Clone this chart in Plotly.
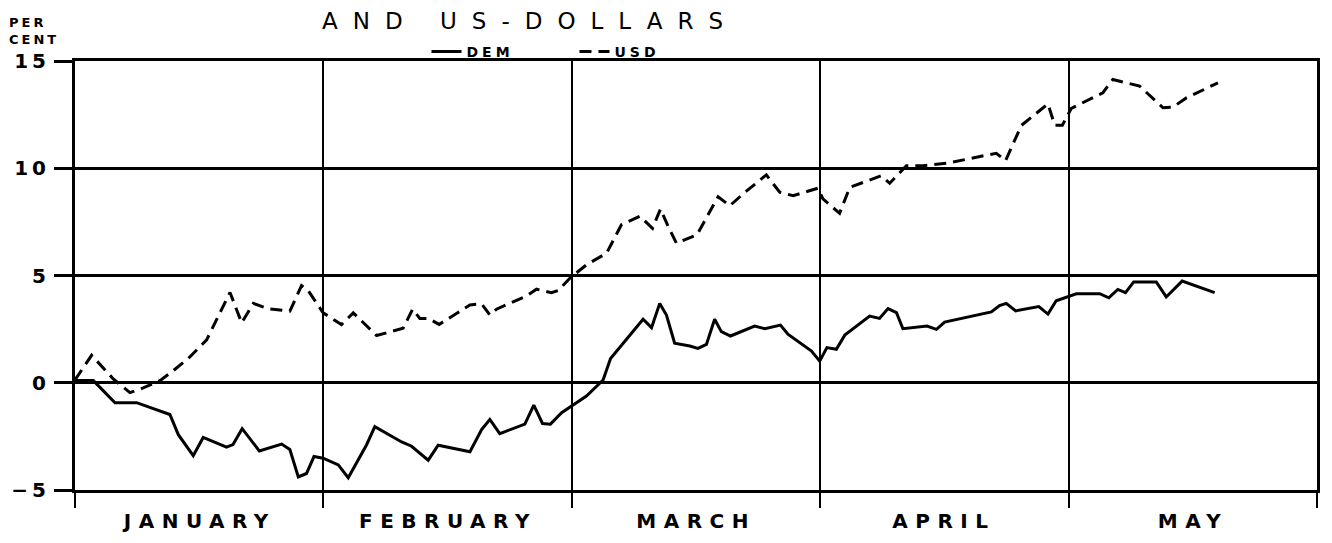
import plotly.graph_objects as go

# ---- data (x positions in month units: 0 = start of January, 5 = end of May) ----
months = ["JANUARY", "FEBRUARY", "MARCH", "APRIL", "MAY"]
month_bounds = [0, 1, 2, 3, 4, 5]
y_ticks = [-5, 0, 5, 10, 15]

dem_pos = [0.000, 0.074, 0.161, 0.248, 0.382, 0.416, 0.476, 0.516, 0.610, 0.636,
           0.673, 0.742, 0.832, 0.865, 0.899, 0.932, 0.962, 0.999, 1.060, 1.100,
           1.174, 1.207, 1.315, 1.355, 1.422, 1.462, 1.590, 1.637, 1.670, 1.710,
           1.811, 1.847, 1.882, 1.914, 1.959, 2.059, 2.126, 2.156, 2.287, 2.321,
           2.354, 2.381, 2.414, 2.475, 2.508, 2.542, 2.575, 2.602, 2.639, 2.736,
           2.777, 2.840, 2.870, 2.965, 2.998, 3.027, 3.065, 3.099, 3.199, 3.239,
           3.273, 3.307, 3.333, 3.430, 3.468, 3.501, 3.689, 3.722, 3.749, 3.787,
           3.880, 3.917, 3.950, 3.984, 4.031, 4.125, 4.162, 4.198, 4.229, 4.262,
           4.353, 4.393, 4.457, 4.588]
dem_values = [0.1, 0.1, -0.93, -0.93, -1.48, -2.42, -3.4, -2.55, -3.0, -2.88,
              -2.14, -3.18, -2.86, -3.11, -4.39, -4.23, -3.44, -3.52, -3.83, -4.43,
              -2.89, -2.05, -2.76, -2.96, -3.61, -2.91, -3.22, -2.18, -1.71, -2.37,
              -1.93, -1.04, -1.9, -1.93, -1.4, -0.62, 0.13, 1.13, 2.96, 2.57,
              3.7, 3.16, 1.84, 1.71, 1.6, 1.79, 2.96, 2.38, 2.18, 2.64,
              2.52, 2.69, 2.26, 1.48, 1.01, 1.64, 1.56, 2.22, 3.11, 3.0,
              3.46, 3.27, 2.52, 2.64, 2.49, 2.83, 3.3, 3.6, 3.7, 3.35,
              3.55, 3.2, 3.82, 3.97, 4.15, 4.15, 3.96, 4.35, 4.2, 4.7,
              4.7, 4.0, 4.74, 4.2]

usd_pos = [0.000, 0.067, 0.154, 0.221, 0.262, 0.342, 0.396, 0.456, 0.530, 0.624,
           0.671, 0.718, 0.778, 0.865, 0.912, 0.939, 0.999, 1.073, 1.120, 1.214,
           1.321, 1.359, 1.388, 1.422, 1.466, 1.590, 1.637, 1.670, 1.697, 1.818,
           1.858, 1.918, 1.945, 1.992, 2.059, 2.140, 2.200, 2.274, 2.325, 2.357,
           2.388, 2.421, 2.504, 2.535, 2.589, 2.636, 2.689, 2.783, 2.837, 2.891,
           2.991, 3.011, 3.078, 3.119, 3.246, 3.280, 3.347, 3.414, 3.508, 3.709,
           3.746, 3.810, 3.917, 3.944, 3.975, 4.011, 4.138, 4.178, 4.252, 4.286,
           4.380, 4.420, 4.474, 4.601]
usd_values = [0.13, 1.28, 0.18, -0.46, -0.3, 0.1, 0.57, 1.13, 2.0, 4.21,
              2.79, 3.7, 3.45, 3.34, 4.53, 4.29, 3.26, 2.71, 3.26, 2.2,
              2.54, 3.43, 3.0, 3.0, 2.72, 3.63, 3.68, 3.16, 3.43, 4.05,
              4.36, 4.2, 4.3, 4.87, 5.5, 6.04, 7.37, 7.76, 7.2, 8.1,
              7.29, 6.51, 6.9, 7.55, 8.67, 8.25, 8.8, 9.69, 8.88, 8.72,
              9.07, 8.57, 7.9, 9.11, 9.65, 9.3, 10.12, 10.12, 10.23, 10.7,
              10.35, 12.0, 13.0, 12.01, 12.01, 12.79, 13.52, 14.14, 13.91, 13.83,
              12.82, 12.85, 13.28, 13.98]

FONT = "DejaVu Sans"

fig = go.Figure()
fig.add_trace(go.Scatter(x=dem_pos, y=dem_values, mode="lines", name="DEM",
                         line=dict(color="black", width=3)))
fig.add_trace(go.Scatter(x=usd_pos, y=usd_values, mode="lines", name="USD",
                         line=dict(color="black", width=3, dash="12px,7px")))

# month labels below the axis
for i, m in enumerate(months):
    fig.add_annotation(x=i + 0.5, y=0, xref="x", yref="paper",
                       text=m, showarrow=False, yanchor="middle", yshift=-31,
                       font=dict(family=FONT, size=20, color="black", weight="bold"))

fig.add_annotation(x=0, y=1, xref="paper", yref="paper", xshift=-68, yshift=48,
                   xanchor="left", yanchor="top", align="left", showarrow=False,
                   text="PER<br>CENT",
                   font=dict(family=FONT, size=13, color="black", weight="bold"))

fig.add_annotation(x=0.366, y=1, xref="paper", yref="paper", yshift=40,
                   xanchor="center", yanchor="middle", showarrow=False,
                   text="AND US-DOLLARS",
                   font=dict(family=FONT, size=23, color="black"))

fig.update_layout(
    width=1332, height=543,
    margin=dict(l=75, r=15, t=61, b=53, autoexpand=False),
    paper_bgcolor="white", plot_bgcolor="white",
    showlegend=True,
    legend=dict(orientation="h", x=0.283, xanchor="left", y=1.021, yanchor="middle",
                font=dict(family=FONT, size=14, color="black", weight="bold"),
                bgcolor="rgba(0,0,0,0)", entrywidth=103, entrywidthmode="pixels",
                tracegroupgap=0),
    xaxis=dict(range=[0, 5], tickvals=month_bounds, showticklabels=False,
               ticks="outside", ticklen=15, tickwidth=2, tickcolor="black",
               showgrid=True, gridcolor="black", gridwidth=2,
               showline=True, linecolor="black", linewidth=3, mirror=True,
               zeroline=False),
    yaxis=dict(range=[-5, 15], tickvals=y_ticks, ticks="outside", ticklen=18,
               tickwidth=3, tickcolor="black",
               tickfont=dict(family=FONT, size=20, color="black", weight="bold"),
               showgrid=True, gridcolor="black", gridwidth=3,
               showline=True, linecolor="black", linewidth=3, mirror=True,
               zeroline=False),
)

# page without the default body margin, and wider lettering like the plotter font
post = """
document.body.style.margin = '0';
var gd = document.getElementById('{plot_id}');
function widen(){
  gd.querySelectorAll('text').forEach(function(t){
    var s = t.textContent;
    if (t.classList.contains('annotation-text')) {
      if (s.indexOf('DOLLARS') >= 0) t.style.letterSpacing = '15px';
      else if (s.indexOf('PER') >= 0) t.style.letterSpacing = '3px';
      else t.style.letterSpacing = '7.5px';
    } else if (t.classList.contains('legendtext')) {
      t.style.letterSpacing = '4px';
    } else if (t.closest && t.closest('.ytick')) {
      t.style.letterSpacing = '4px';
    }
  });
}
widen();
gd.on('plotly_afterplot', widen);
"""

fig.write_html("out.html", post_script=post, config={"displayModeBar": False})
